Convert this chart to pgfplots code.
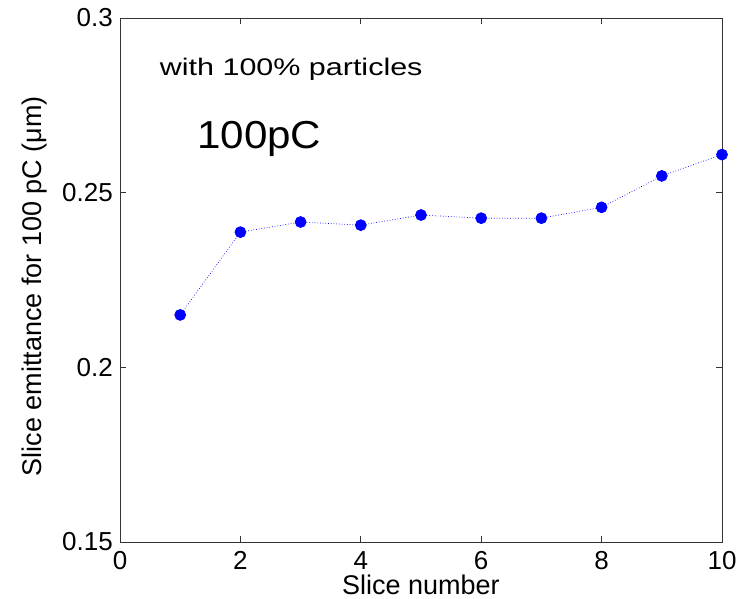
\documentclass[border=0pt]{standalone}
\usepackage{fontspec}
\setmainfont{Liberation Sans}
\usepackage{pgfplots}
\pgfplotsset{compat=1.18}
\begin{document}
\begin{tikzpicture}
\useasboundingbox (-120bp,-57bp) rectangle (628bp,542bp);
\begin{axis}[
  at={(0,0)}, anchor=south west,
  scale only axis, width=602bp, height=524bp,
  xmin=0, xmax=10, ymin=0.15, ymax=0.3,
  xtick={0,2,4,6,8,10},
  ytick={0.15,0.2,0.25,0.3},
  yticklabels={0.15,0.2,0.25,0.3},
  xticklabels={0,2,4,6,8,10},
  tick align=inside, major tick length=6bp,
  tick style={black!80, line width=0.7pt},
  axis line style={black!80, line width=0.7pt},
  ticklabel style={font=\fontsize{26bp}{30bp}\selectfont, inner sep=0pt},
  xticklabel style={anchor=north, yshift=-9bp},
  yticklabel style={anchor=east, xshift=-7bp},
  label style={font=\fontsize{27bp}{31bp}\selectfont},
  xlabel={Slice number},
  ylabel={Slice emittance for 100 pC (μm)},
  xlabel style={at={(axis description cs:0.5,0)}, anchor=base, yshift=-52bp},
  ylabel style={at={(axis description cs:-0.1296,0.488)}, anchor=base},
  clip=false,
]
\addplot[blue, dotted, line width=0.7pt, mark=*, mark size=5.5bp, mark options={solid, fill=blue, draw=blue}]
coordinates {
(1,0.215) (2,0.2387) (3,0.2416) (4,0.2407) (5,0.2436) (6,0.2427) (7,0.2427) (8,0.2458) (9,0.2548) (10,0.2609)
};
\node[anchor=west, inner sep=0pt, font=\fontsize{24bp}{28bp}\selectfont] at (axis cs:0.66,0.2853) {\scalebox{1.27}[1]{with 100\% particles}};
\node[anchor=west, inner sep=0pt, font=\fontsize{39bp}{44bp}\selectfont] at (axis cs:1.28,0.2655) {\scalebox{1.08}[1]{100pC}};
\end{axis}
\end{tikzpicture}
\end{document}
